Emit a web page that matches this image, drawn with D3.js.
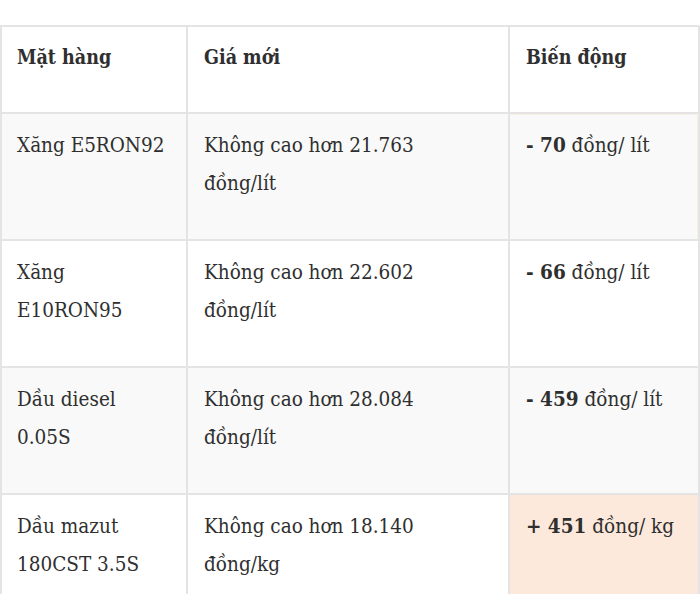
<!DOCTYPE html>
<html lang="vi">
<head>
    <meta charset="UTF-8">
    <title>Giá xăng dầu</title>
    <script src="https://d3js.org/d3.v7.min.js"></script>
    <style>
        body { margin: 0; background: #fff; }
        svg { display: block; }
        text { font-family: "DejaVu Serif Condensed", "DejaVu Serif", serif; font-stretch: condensed; fill: #2f2f2f; }
        .head { font-weight: bold; }
        .num { font-weight: bold; }
    </style>
</head>
<body>
    <div id="chart"></div>
    <script>
        // table content
        const headers = ["Mặt hàng", "Giá mới", "Biến động"];
        const items = ["Xăng E5RON92", "Xăng\nE10RON95", "Dầu diesel\n0.05S", "Dầu mazut\n180CST 3.5S"];
        const prices = [21763, 22602, 28084, 18140];
        const units = ["lít", "lít", "lít", "kg"];
        const changes = [-70, -66, -459, 451];

        const width = 700, height = 594;
        const fontSize = 20.5, headSize = 19.5, lineGap = 38, padX = 17, baseOff = 39;

        const vn = d3.formatLocale({decimal: ",", thousands: ".", grouping: [3], currency: ["", "đ"]});
        const fmt = vn.format(",d");

        const rows = items.map((d, i) => ({
            item: d,
            price: "Không cao hơn " + fmt(prices[i]) + "\nđồng/" + units[i],
            change: changes[i],
            unit: units[i]
        }));

        // column edges and row positions
        const x = d3.scaleLinear().domain([0, 1, 2, 3]).range([0, 187, 509, 699]);
        const yHead = d3.scaleLinear().domain([0, 1]).range([26, 113]);
        const y = d3.scaleBand().domain(d3.range(rows.length)).range([113, 113 + 127 * rows.length]);

        const svg = d3.select("#chart").append("svg")
            .attr("width", width)
            .attr("height", height);

        // row backgrounds
        const rowG = svg.selectAll(".row")
            .data(rows)
            .enter().append("g")
            .attr("class", "row");

        rowG.append("rect")
            .attr("x", x(0))
            .attr("y", (d, i) => y(i))
            .attr("width", x(3) - x(0))
            .attr("height", y.bandwidth())
            .attr("fill", (d, i) => i % 2 === 0 ? "#f9f9f9" : "#fff");

        // peach cell for a price increase
        rowG.filter(d => d.change > 0).append("rect")
            .attr("x", x(2))
            .attr("y", d => y(rows.indexOf(d)))
            .attr("width", x(3) - x(2))
            .attr("height", y.bandwidth())
            .attr("fill", "#fde9dc");

        // faint beige outline on the first change cell
        svg.append("rect")
            .attr("x", x(2) + 0.5)
            .attr("y", y(0) + 1.5)
            .attr("width", x(3) - x(2) - 2)
            .attr("height", y.bandwidth() - 2)
            .attr("fill", "none")
            .attr("stroke", "#fbf0e6")
            .attr("stroke-width", 1);

        // grid lines
        const hLines = [yHead(0), yHead(1)].concat(d3.range(1, rows.length + 1).map(i => y(i - 1) + y.bandwidth()));
        svg.selectAll(".hline")
            .data(hLines.filter(v => v < height))
            .enter().append("line")
            .attr("x1", x(0)).attr("x2", x(3))
            .attr("y1", d => d).attr("y2", d => d)
            .attr("stroke", "#e4e4e4")
            .attr("stroke-width", 2);

        svg.selectAll(".vline")
            .data([0, 1, 2, 3])
            .enter().append("line")
            .attr("x1", d => x(d) + (d === 0 ? 1 : 0)).attr("x2", d => x(d) + (d === 0 ? 1 : 0))
            .attr("y1", yHead(0)).attr("y2", height)
            .attr("stroke", "#e4e4e4")
            .attr("stroke-width", 2);

        // headers
        svg.selectAll(".head")
            .data(headers)
            .enter().append("text")
            .attr("class", "head")
            .attr("x", (d, i) => x(i) + padX)
            .attr("y", yHead(0) + baseOff - 1)
            .style("font-size", headSize + "px")
            .text(d => d);

        // multi-line text cells
        function addLines(g, col, key) {
            g.append("text")
                .attr("x", x(col) + padX)
                .attr("y", d => y(rows.indexOf(d)) + baseOff)
                .style("font-size", fontSize + "px")
                .each(function(d) {
                    const t = d3.select(this);
                    d[key].split("\n").forEach((line, k) => {
                        t.append("tspan")
                            .attr("x", x(col) + padX)
                            .attr("dy", k === 0 ? 0 : lineGap)
                            .text(line);
                    });
                });
        }
        addLines(rowG, 0, "item");
        addLines(rowG, 1, "price");

        const ch = rowG.append("text")
            .attr("x", x(2) + padX)
            .attr("y", d => y(rows.indexOf(d)) + baseOff)
            .style("font-size", fontSize + "px");
        ch.append("tspan")
            .attr("class", "num")
            .text(d => (d.change < 0 ? "- " : "+ ") + Math.abs(d.change));
        ch.append("tspan")
            .text(d => " đồng/ " + d.unit);
    </script>
</body>
</html>
